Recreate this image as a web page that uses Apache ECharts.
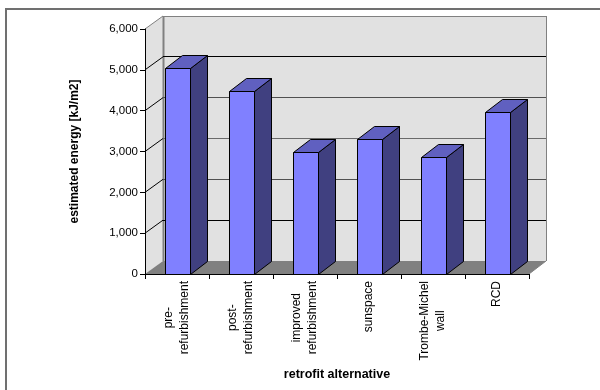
<!DOCTYPE html>
<html>
<head>
<meta charset="utf-8">
<style>html,body{margin:0;padding:0;background:#fff}#chart{width:600px;height:390px}</style>
<script src="https://cdn.jsdelivr.net/npm/echarts@6/dist/echarts.min.js"></script>
</head>
<body>
<div id="chart"></div>
<script>
const categories = ['pre-\nrefurbishment', 'post-\nrefurbishment', 'improved\nrefurbishment', 'sunspace', 'Trombe-Michel\nwall', 'RCD'];
const energy = [5030, 4480, 2965, 3290, 2860, 3960];
const wallTicks = [1000, 2000, 3000, 4000, 5000];

// Oblique depth of the box the bars stand in, and of each bar
const DEPTH_X = 18, DEPTH_Y = 13, BAR_DEPTH_X = 17;
const FONT = '"Liberation Sans", Arial, sans-serif';
const lineColor = v => (v === 1000 || v === 5000) ? '#000' : (v === 3000 ? '#6a6a6a' : '#505050');
const crisp = v => Math.floor(v) + 0.5;

function renderWalls(params, api) {
  const c = params.coordSys;
  const l = c.x, r = c.x + c.width, t = c.y, b = c.y + c.height;
  const edge = { stroke: '#808080', lineWidth: 1, fill: null };
  const poly = (points, fill) => ({ type: 'polygon', shape: { points }, style: { fill, stroke: null } });
  const line = (x1, y1, x2, y2, style) => ({ type: 'line', shape: { x1, y1, x2, y2 }, style });
  return {
    type: 'group',
    children: [
      poly([[l + DEPTH_X, t - DEPTH_Y], [r + DEPTH_X - 1, t - DEPTH_Y], [r + DEPTH_X - 1, b - DEPTH_Y], [l + DEPTH_X, b - DEPTH_Y]], '#e1e1e1'),
      poly([[l, t], [l + DEPTH_X, t - DEPTH_Y], [l + DEPTH_X, b - DEPTH_Y], [l, b]], '#e1e1e1'),
      poly([[l, b], [l + DEPTH_X, b - DEPTH_Y], [r + DEPTH_X - 1, b - DEPTH_Y], [r, b]], '#808080'),
      line(l, t, l + DEPTH_X, t - DEPTH_Y, edge),
      line(l + DEPTH_X, crisp(t - DEPTH_Y), r + DEPTH_X - 1, crisp(t - DEPTH_Y), edge),
      line(crisp(r + DEPTH_X - 1), t - DEPTH_Y, crisp(r + DEPTH_X - 1), b - DEPTH_Y, edge),
      line(crisp(l + DEPTH_X), t - DEPTH_Y, crisp(l + DEPTH_X), b - DEPTH_Y, { stroke: '#808080', lineWidth: 2 }),
      line(r, b, r + DEPTH_X - 1, b - DEPTH_Y, edge)
    ]
  };
}

function renderWallLine(params, api) {
  const v = api.value(0);
  const c = params.coordSys;
  const y = api.coord([0, v])[1];
  return {
    type: 'group',
    children: [
      { type: 'line', shape: { x1: c.x, y1: y, x2: c.x + DEPTH_X, y2: y - DEPTH_Y }, style: { stroke: '#000', lineWidth: 1 } },
      { type: 'line', shape: { x1: c.x + DEPTH_X, y1: crisp(y - DEPTH_Y), x2: c.x + c.width + DEPTH_X - 1, y2: crisp(y - DEPTH_Y) }, style: { stroke: lineColor(v), lineWidth: 1 } }
    ]
  };
}

function renderBar(params, api) {
  const top = api.coord([api.value(0), api.value(1)]);
  const base = api.coord([api.value(0), 0]);
  const w = api.size([1, 0])[0] * 0.4;
  const cx = top[0] + 0.8;
  const x0 = crisp(cx - w / 2), x1 = crisp(cx + w / 2);
  const yt = crisp(top[1]), yb = crisp(base[1]);
  const dx = BAR_DEPTH_X, dy = DEPTH_Y;
  const outline = fill => ({ fill, stroke: '#000', lineWidth: 1 });
  return {
    type: 'group',
    children: [
      { type: 'polygon', shape: { points: [[x1, yt], [x1 + dx, yt - dy], [x1 + dx, yb - dy], [x1, yb]] }, style: outline('#404080') },
      { type: 'polygon', shape: { points: [[x0, yt], [x0 + dx, yt - dy], [x1 + dx, yt - dy], [x1, yt]] }, style: outline('#6060c0') },
      { type: 'rect', shape: { x: x0, y: yt, width: x1 - x0, height: yb - yt }, style: outline('#8080ff') }
    ]
  };
}

const chart = echarts.init(document.getElementById('chart'), null, { renderer: 'canvas' });
chart.setOption({
  animation: false,
  backgroundColor: '#fff',
  textStyle: { fontFamily: FONT },
  graphic: [
    { type: 'rect', shape: { x: 5, y: 8, width: 595, height: 2 }, style: { fill: '#707070' } },
    { type: 'rect', shape: { x: 5, y: 8, width: 2, height: 382 }, style: { fill: '#707070' } }
  ],
  grid: { left: 145, top: 29, width: 384, height: 245, containLabel: false },
  xAxis: {
    type: 'category',
    data: categories,
    z: 10,
    name: 'retrofit alternative',
    nameLocation: 'middle',
    nameGap: 93,
    nameTextStyle: { fontFamily: FONT, fontSize: 12.5, fontWeight: 'bold', color: '#000' },
    axisLine: { lineStyle: { color: '#000', width: 1 } },
    axisTick: { show: true, length: 5, alignWithLabel: false, lineStyle: { color: '#000' } },
    splitLine: { show: false },
    axisLabel: {
      interval: 0,
      rotate: 90,
      margin: 7,
      formatter: s => s.split('\n').map(p => '{c|' + p + '}').join('\n'),
      rich: { c: { align: 'center', fontFamily: FONT, fontSize: 12, color: '#000', lineHeight: 16 } }
    }
  },
  yAxis: {
    type: 'value',
    min: 0,
    max: 6000,
    interval: 1000,
    z: 10,
    name: 'estimated energy [kJ/m2]',
    nameLocation: 'middle',
    nameGap: 64,
    nameRotate: 90,
    nameTextStyle: { fontFamily: FONT, fontSize: 12, fontWeight: 'bold', color: '#000' },
    axisLine: { show: true, lineStyle: { color: '#000', width: 1 } },
    axisTick: { show: true, length: 5, lineStyle: { color: '#000' } },
    splitLine: { show: false },
    axisLabel: {
      margin: 7,
      fontFamily: FONT,
      fontSize: 11.5,
      color: '#000',
      formatter: v => v.toLocaleString('en-US')
    }
  },
  series: [
    { type: 'custom', name: 'walls', z: 1, silent: true, clip: false, data: [[0]], encode: { x: -1, y: -1 }, renderItem: renderWalls },
    { type: 'custom', name: 'wall lines', z: 2, silent: true, clip: false, data: wallTicks.map(v => [v]), encode: { x: -1, y: 0 }, renderItem: renderWallLine },
    { type: 'custom', name: 'estimated energy', z: 3, clip: false, data: energy.map((v, i) => [i, v]), encode: { x: 0, y: 1 }, renderItem: renderBar }
  ]
});
</script>
</body>
</html>
